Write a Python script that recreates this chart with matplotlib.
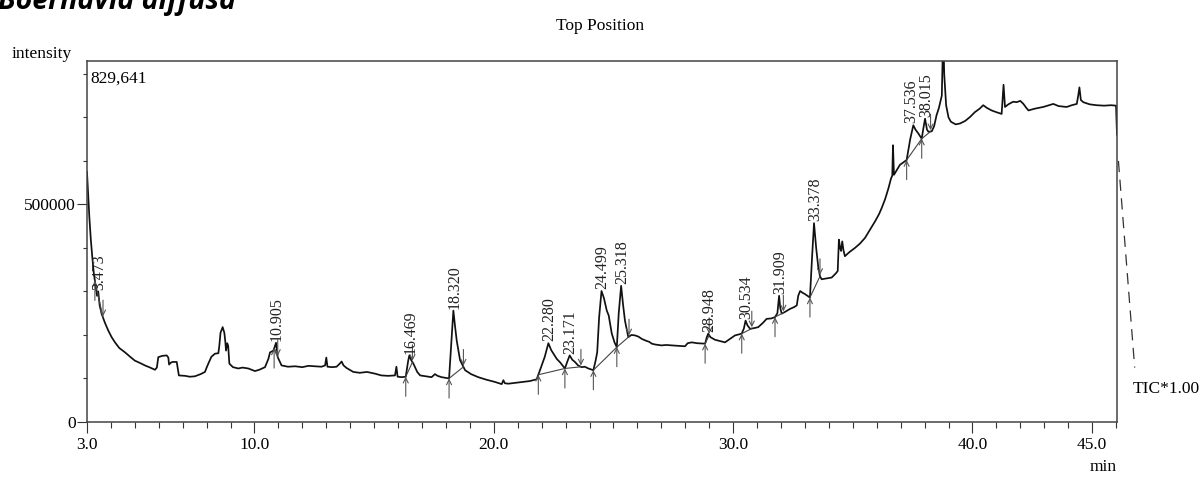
import matplotlib
matplotlib.use("Agg")
import matplotlib.pyplot as plt
import numpy as np

plt.rcParams['font.family'] = ['Liberation Serif', 'DejaVu Serif']

# TIC trace (retention time in min, intensity)
rt = [3.00, 3.05, 3.10, 3.16, 3.22, 3.28, 3.36, 3.42, 3.47, 3.53, 3.61, 3.75, 3.89, 4.03,
      4.17, 4.35, 4.59, 4.80, 5.00, 5.20, 5.42, 5.60, 5.84, 5.92, 5.98, 6.15, 6.33, 6.40,
      6.43, 6.50, 6.57, 6.75, 6.80, 6.84, 7.10, 7.30, 7.51, 7.75, 7.93, 8.00, 8.07, 8.20,
      8.35, 8.49, 8.53, 8.58, 8.67, 8.74, 8.78, 8.81, 8.86, 8.90, 8.95, 9.10, 9.32, 9.50,
      9.74, 10.02, 10.20, 10.44, 10.58, 10.65, 10.79, 10.90, 10.97, 11.13, 11.40, 11.70,
      12.00, 12.25, 12.53, 12.80, 12.95, 13.00, 13.05, 13.25, 13.43, 13.58, 13.64, 13.72,
      13.85, 14.13, 14.40, 14.70, 15.04, 15.30, 15.59, 15.87, 15.93, 15.98, 16.15, 16.32,
      16.42, 16.47, 16.55, 16.64, 16.80, 16.92, 17.15, 17.40, 17.54, 17.65, 17.82, 18.13,
      18.22, 18.31, 18.38, 18.45, 18.59, 18.80, 19.05, 19.35, 19.70, 20.05, 20.33, 20.40,
      20.46, 20.61, 20.90, 21.16, 21.50, 21.79, 21.93, 22.07, 22.13, 22.28, 22.40, 22.49,
      22.63, 22.77, 22.97, 23.08, 23.17, 23.28, 23.39, 23.52, 23.67, 23.80, 23.95, 24.16,
      24.25, 24.32, 24.40, 24.50, 24.60, 24.72, 24.80, 24.93, 25.05, 25.14, 25.22, 25.32,
      25.40, 25.48, 25.62, 25.75, 25.90, 26.05, 26.18, 26.35, 26.50, 26.60, 26.75, 27.01,
      27.20, 27.43, 27.70, 27.99, 28.10, 28.27, 28.50, 28.83, 28.90, 28.96, 29.05, 29.24,
      29.45, 29.66, 29.90, 30.08, 30.36, 30.45, 30.52, 30.60, 30.71, 30.90, 31.05, 31.25,
      31.40, 31.60, 31.75, 31.85, 31.92, 31.97, 32.03, 32.20, 32.38, 32.55, 32.66, 32.72,
      32.80, 32.90, 33.00, 33.21, 33.30, 33.38, 33.47, 33.56, 33.63, 33.70, 33.90, 34.12,
      34.30, 34.37, 34.42, 34.47, 34.51, 34.56, 34.61, 34.67, 34.85, 35.09, 35.30, 35.51,
      35.70, 35.93, 36.10, 36.21, 36.35, 36.49, 36.60, 36.65, 36.68, 36.72, 36.85, 36.97,
      37.10, 37.25, 37.40, 37.53, 37.62, 37.74, 37.88, 37.95, 38.02, 38.10, 38.16, 38.30,
      38.40, 38.50, 38.60, 38.72, 38.78, 38.82, 38.90, 39.00, 39.10, 39.30, 39.48, 39.70,
      39.90, 40.10, 40.30, 40.45, 40.60, 40.80, 41.00, 41.22, 41.30, 41.36, 41.50, 41.70,
      41.85, 42.00, 42.13, 42.25, 42.34, 42.60, 42.96, 43.20, 43.38, 43.60, 43.94, 44.15,
      44.36, 44.42, 44.47, 44.53, 44.63, 44.90, 45.19, 45.50, 45.80, 46.00, 46.04]
tic = [575000, 520000, 470000, 420000, 380000, 345000, 312000, 290000, 300000, 268000,
       249000, 228000, 210000, 195000, 183000, 170000, 160000, 150000, 141000, 136000,
       130000, 126000, 120000, 125000, 149000, 152000, 153000, 148000, 132000, 136000,
       138000, 138000, 120000, 107000, 106000, 104000, 105000, 110000, 115000, 125000,
       134000, 150000, 157000, 158000, 175000, 205000, 218000, 205000, 185000, 164000,
       181000, 175000, 134000, 126000, 123000, 125000, 123000, 117000, 120000, 126000,
       145000, 160000, 164000, 182000, 149000, 130000, 127000, 128000, 126000, 129000,
       128000, 127000, 130000, 148000, 127000, 126000, 127000, 135000, 139000, 130000,
       124000, 115000, 113000, 115000, 111000, 107000, 106000, 107000, 127000, 104000,
       103000, 104000, 140000, 153000, 142000, 134000, 115000, 107000, 105000, 103000,
       110000, 106000, 103000, 100000, 180000, 256000, 220000, 187000, 142000, 119000,
       110000, 103000, 97000, 92000, 87000, 96000, 89000, 88000, 90000, 92000,
       94000, 98000, 119000, 141000, 150000, 181000, 165000, 157000, 145000, 137000,
       123000, 140000, 153000, 143000, 138000, 130000, 126000, 127000, 123000, 119000,
       140000, 160000, 240000, 301000, 285000, 256000, 245000, 203000, 182000, 172000,
       250000, 313000, 270000, 233000, 195000, 200000, 199000, 196000, 191000, 187000,
       184000, 180000, 178000, 176000, 177000, 176000, 175000, 174000, 181000, 183000,
       181000, 180000, 195000, 203000, 195000, 189000, 186000, 183000, 192000, 199000,
       203000, 215000, 233000, 222000, 214000, 216000, 218000, 228000, 237000, 238000,
       241000, 250000, 290000, 262000, 249000, 254000, 260000, 264000, 268000, 290000,
       301000, 297000, 294000, 286000, 380000, 457000, 400000, 355000, 335000, 328000,
       330000, 332000, 342000, 347000, 419000, 400000, 393000, 415000, 395000, 381000,
       390000, 400000, 410000, 423000, 440000, 461000, 478000, 492000, 512000, 537000,
       560000, 566000, 636000, 568000, 580000, 591000, 596000, 602000, 650000, 682000,
       672000, 663000, 651000, 675000, 697000, 672000, 667000, 668000, 680000, 705000,
       722000, 750000, 900000, 800000, 728000, 700000, 690000, 684000, 686000, 692000,
       701000, 712000, 720000, 728000, 722000, 716000, 712000, 708000, 775000, 724000,
       730000, 736000, 735000, 738000, 731000, 722000, 716000, 720000, 724000, 728000,
       731000, 726000, 724000, 728000, 731000, 750000, 769000, 740000, 735000, 730000,
       728000, 727000, 728000, 727000, 660000]

# integrated peaks: label, apex time, start, end
peak_labels = ["3.473", "10.905", "16.469", "18.320", "22.280", "23.171", "24.499",
               "25.318", "28.948", "30.534", "31.909", "33.378", "37.536", "38.015"]
peak_rt = [3.47, 10.90, 16.47, 18.31, 22.28, 23.17, 24.50, 25.32, 28.96, 30.52, 31.92,
           33.38, 37.53, 38.02]
peak_start = [3.33, 10.82, 16.32, 18.13, 21.86, 22.97, 24.16, 25.14, 28.83, 30.36, 31.75,
              33.21, 37.25, 37.88]
peak_end = [3.67, 10.97, 16.60, 18.73, 22.97, 23.64, 25.14, 25.65, 29.00, 30.78, 32.10,
            33.63, 37.88, 38.25]

rt = np.array(rt)
tic = np.array(tic)
ymax = 829641

fig = plt.figure(figsize=(12.03, 4.78), dpi=100)
ax = fig.add_axes([0.0723, 0.1172, 0.8562, 0.7552])

ax.plot(rt, tic, color='#111111', lw=1.25)

# falling tail of the trace beyond the time window
ax.plot([46.10, 46.78], [600000, 125000], color='#333333', lw=0.9,
        ls=(0, (9, 6)), clip_on=False)

arrow = dict(arrowstyle='->', color='#555555', lw=0.8, shrinkA=0, shrinkB=0,
             mutation_scale=9)
for i, lab in enumerate(peak_labels):
    t0, t1 = peak_start[i], peak_end[i]
    v0, v1 = np.interp(t0, rt, tic), np.interp(t1, rt, tic)
    ax.plot([t0, t1], [v0, v1], color='#444444', lw=0.8)
    ax.annotate('', xy=(t0, v0), xytext=(t0, v0 - 45000), arrowprops=arrow)
    if t1 not in peak_start:
        ax.annotate('', xy=(t1, v1 + 3000), xytext=(t1, v1 + 40000), arrowprops=arrow)
    apex = np.interp(peak_rt[i], rt, tic)
    dx = 0.04
    # crowded neighbours: nudge the earlier label left
    if i + 1 < len(peak_rt) and peak_rt[i + 1] - peak_rt[i] < 0.6:
        dx = -0.1
    ax.text(peak_rt[i] + dx, apex + 4000, lab, rotation=90, ha='center', va='bottom',
            fontsize=11.5, color='#222222')

ax.set_xlim(3.0, 46.04)
ax.set_ylim(0, ymax)
ax.set_xticks([3, 10, 20, 30, 40, 45])
ax.set_xticklabels(["3.0", "10.0", "20.0", "30.0", "40.0", "45.0"])
ax.set_xticks(np.arange(3, 47), minor=True)
ax.set_yticks([0, 500000])
ax.set_yticklabels(["0", "500000"])
ax.set_yticks(np.arange(0, 900000, 100000), minor=True)
ax.tick_params(axis='x', which='major', length=8, width=0.8, pad=3, labelsize=12.5,
               color='#333333')
ax.tick_params(axis='x', which='minor', length=4, width=0.8, color='#333333')
ax.tick_params(axis='y', which='major', length=7, width=0.8, pad=1, labelsize=12.5,
               color='#333333')
ax.tick_params(axis='y', which='minor', length=3, width=0.8, color='#333333')
for s in ax.spines.values():
    s.set_color('#444444')
    s.set_linewidth(1.1)

fig.text(-0.002, 0.981, "Boerhavia diffusa", fontsize=20.5, fontweight='bold',
         fontstyle='italic', family='Open Sans', va='baseline', ha='left')
fig.text(0.4988, 0.9456, "Top Position", fontsize=12.5, ha='center', va='center')
fig.text(0.0097, 0.8787, "intensity", fontsize=12.5, ha='left', va='baseline')
fig.text(0.0748, 0.8264, "829,641", fontsize=12.5, ha='left', va='baseline')
fig.text(0.9418, 0.1778, "TIC*1.00", fontsize=12.5, ha='left', va='baseline')
fig.text(0.9285, 0.0146, "min", fontsize=12.5, ha='right', va='baseline')

fig.savefig("out.png", dpi=100)
